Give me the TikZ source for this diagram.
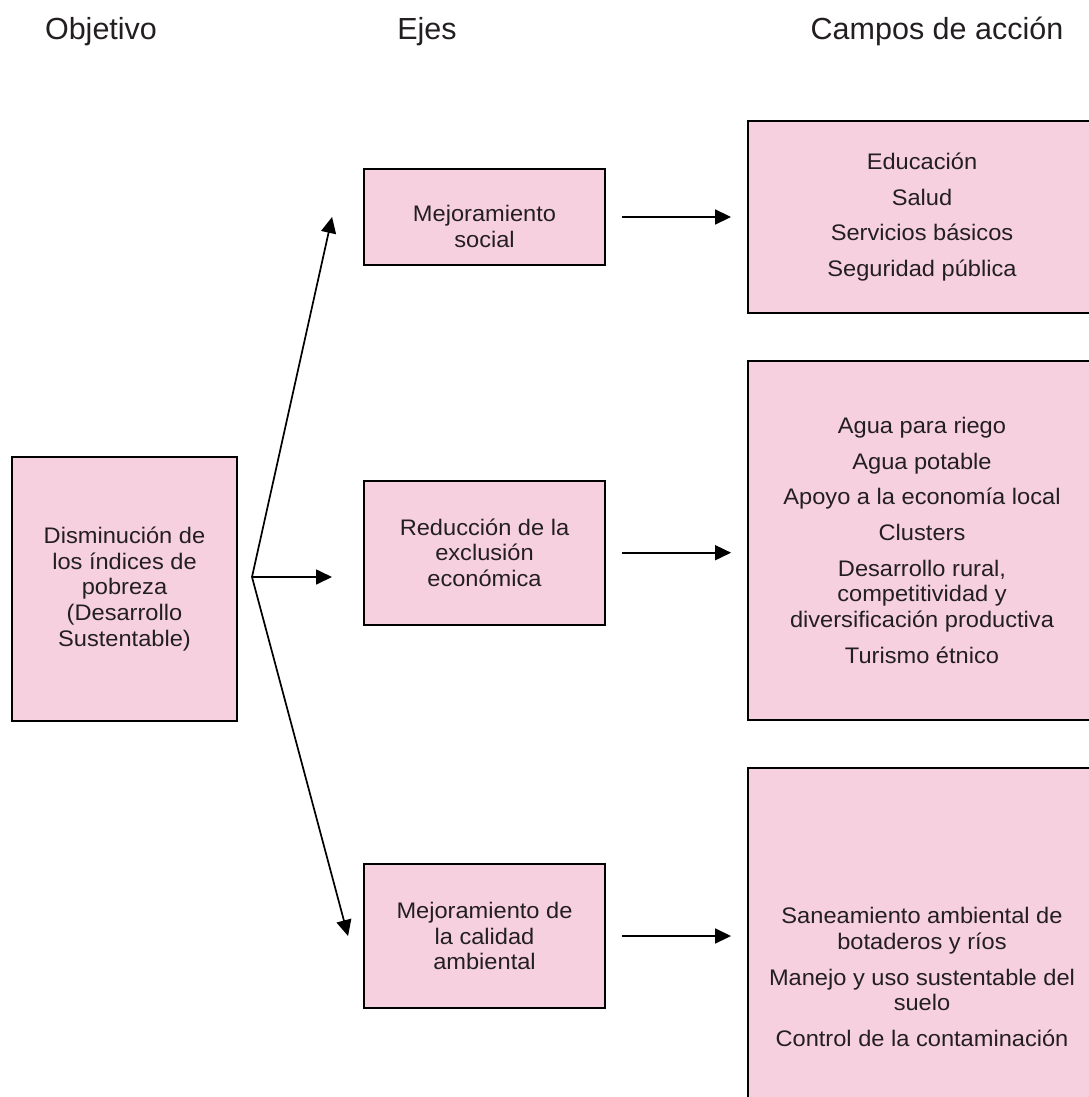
\documentclass[tikz,border=0pt]{standalone}
\usepackage{fontspec}
\setmainfont{Liberation Sans}
\newfontfamily\bodyfont{Liberation Sans}[FakeStretch=1.05]
\usetikzlibrary{arrows.meta}
\definecolor{boxpink}{HTML}{F7D0E0}
\definecolor{txtgray}{HTML}{231F20}
\begin{document}
\begin{tikzpicture}[x=1pt,y=-1pt,
  box/.style={draw=black, line width=1.9pt, fill=boxpink, text=txtgray,
    align=center, inner sep=0pt, font=\bodyfont\fontsize{22.5}{25.7}\selectfont},
  head/.style={text=txtgray, anchor=base, inner sep=0pt, font=\fontsize{30.5}{36}\selectfont},
  arr/.style={line width=1.7pt, -{Triangle[length=16pt,width=15pt]}}]
\useasboundingbox (0,0) rectangle (1088,1097);

% headers
\node[head] (h1) at (101,39.3) {Objetivo};
\node[head] (h2) at (427,39.3) {Ejes};
\node[head] (h3) at (937,39.3) {Campos de acción};

% objective
\node[box, minimum width=225pt, minimum height=264pt] (obj) at (124.5,588.8)
  {Disminución de\\los índices de\\pobreza\\(Desarrollo\\Sustentable)};

% axes
\node[box, minimum width=241pt, minimum height=96pt] (m1) at (484.5,217)
  {\rule{0pt}{35pt}Mejoramiento\\social};
\node[box, minimum width=241pt, minimum height=144pt] (m2) at (484.5,552.7)
  {Reducción de la\\exclusión\\económica};
\node[box, minimum width=241pt, minimum height=144pt] (m3) at (484.5,936)
  {Mejoramiento de\\la calidad\\ambiental};

% fields of action
\node[box, minimum width=348pt, minimum height=191.7pt] (c1) at (922,216.9)
  {Educación\\[10pt]Salud\\[10pt]Servicios básicos\\[10pt]Seguridad pública};
\node[box, minimum width=348pt, minimum height=359.3pt] (c2) at (922,540.4)
  {Agua para riego\\[10pt]Agua potable\\[10pt]Apoyo a la economía local\\[10pt]Clusters\\[10pt]Desarrollo rural,\\competitividad y\\diversificación productiva\\[10pt]Turismo étnico};
\node[box, minimum width=348pt, minimum height=417.4pt] (c3) at (922,977)
  {Saneamiento ambiental de\\botaderos y ríos\\[10pt]Manejo y uso sustentable del\\suelo\\[10pt]Control de la contaminación};

% branching connectors
\coordinate (br) at (252,577);
\coordinate (t2) at (332,577);
\draw[arr] (br) -- ([xshift=-31pt]m1.west);
\draw[arr] (br) -- (t2);
\draw[arr] (br) -- ([xshift=-15pt]m3.west);

% axis -> field connectors
\draw[arr] ([xshift=16pt]m1.east) -- ([xshift=-16pt]m1.east -| c1.west);
\draw[arr] ([xshift=16pt]m2.east) -- ([xshift=-16pt]m2.east -| c2.west);
\draw[arr] ([xshift=16pt]m3.east) -- ([xshift=-16pt]m3.east -| c3.west);
\end{tikzpicture}
\end{document}
